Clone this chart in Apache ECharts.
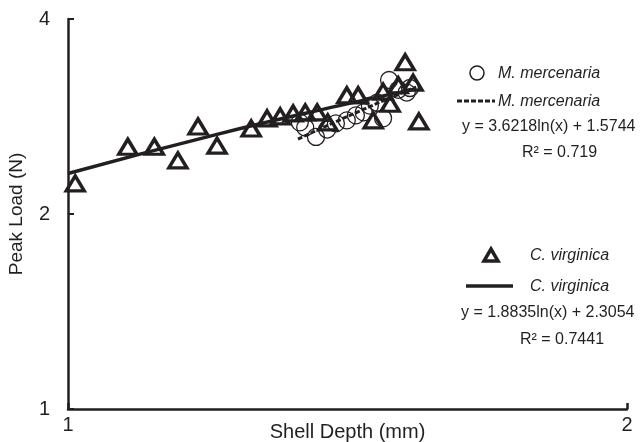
<!DOCTYPE html>
<html>
<head>
<meta charset="utf-8">
<script src="https://cdn.jsdelivr.net/npm/echarts@6/dist/echarts.min.js"></script>
<style>
  html, body { margin: 0; padding: 0; background: #fff; }
  #chart { width: 640px; height: 442px; }
</style>
</head>
<body>
<div id="chart"></div>
<script>
// Shell depth (mm) / peak load (N)
const virginicaDepth = [1.009, 1.077, 1.113, 1.146, 1.175, 1.203, 1.255, 1.280, 1.301, 1.322, 1.342,
  1.362, 1.380, 1.413, 1.433, 1.460, 1.478, 1.491, 1.506, 1.519, 1.534, 1.545];
const virginicaLoad = [2.23, 2.54, 2.54, 2.42, 2.73, 2.55, 2.71, 2.81, 2.83, 2.86, 2.87,
  2.87, 2.77, 3.05, 3.05, 2.79, 3.09, 2.96, 3.16, 3.43, 3.19, 2.78];

const mercenariaDepth = [1.333, 1.342, 1.360, 1.379, 1.394, 1.413, 1.429, 1.443, 1.454, 1.467,
  1.478, 1.489, 1.506, 1.522, 1.528];
const mercenariaLoad = [2.77, 2.72, 2.63, 2.70, 2.76, 2.79, 2.84, 2.87, 2.94, 2.97,
  2.81, 3.22, 3.11, 3.08, 3.13];

// trend lines, points
const virginicaFitDepth = [1.0, 1.2, 1.4, 1.54];
const virginicaFitLoad = [2.31, 2.65, 2.94, 3.12];
const mercenariaFitDepth = [1.33, 1.45, 1.54];
const mercenariaFitLoad = [2.61, 2.92, 3.14];

const xTicks = [1, 2];
const yTicks = [1, 2, 4];

const ink = '#231f20';
const font = '"Liberation Sans", Arial, Helvetica, sans-serif';

const pairs = (xs, ys) => xs.map((x, i) => [x, ys[i]]);

const chart = echarts.init(document.getElementById('chart'));

const legendText = (text, x, y, italic) => ({
  type: 'text',
  left: x,
  top: y,
  style: {
    text,
    fill: ink,
    font: (italic ? 'italic ' : '') + '16px ' + font
  }
});

const option = {
  animation: false,
  backgroundColor: '#fff',
  grid: { left: 68, right: 13, top: 19, bottom: 33, containLabel: false, outerBoundsMode: 'none' },
  xAxis: {
    type: 'log',
    logBase: 2,
    min: xTicks[0],
    max: xTicks[xTicks.length - 1],
    name: 'Shell Depth (mm)',
    nameLocation: 'middle',
    nameGap: 13,
    nameMoveOverlap: false,
    nameTextStyle: { color: ink, fontSize: 20, fontFamily: font },
    axisLine: { lineStyle: { color: ink, width: 2.5 } },
    axisTick: { inside: true, length: 6, lineStyle: { color: ink, width: 2.5 } },
    axisLabel: { color: ink, fontSize: 20, fontFamily: font, margin: 6, showMinLabel: true, showMaxLabel: true },
    splitLine: { show: false },
    minorTick: { show: false }
  },
  yAxis: {
    type: 'log',
    logBase: 2,
    min: yTicks[0],
    max: yTicks[yTicks.length - 1],
    name: 'Peak Load (N)',
    nameLocation: 'middle',
    nameGap: 42,
    nameRotate: 90,
    nameMoveOverlap: false,
    nameTextStyle: { color: ink, fontSize: 19, fontFamily: font },
    axisLine: { lineStyle: { color: ink, width: 2.5 } },
    axisTick: { inside: true, length: 6, lineStyle: { color: ink, width: 2 } },
    axisLabel: { color: ink, fontSize: 20, fontFamily: font, margin: 18 },
    splitLine: { show: false }
  },
  series: [
    {
      name: 'C. virginica',
      type: 'scatter',
      data: pairs(virginicaDepth, virginicaLoad),
      symbol: 'triangle',
      symbolSize: [18, 15],
      itemStyle: { color: 'rgba(255,255,255,0)', borderColor: ink, borderWidth: 3.4, opacity: 1 },
      z: 3
    },
    {
      name: 'M. mercenaria',
      type: 'scatter',
      data: pairs(mercenariaDepth, mercenariaLoad),
      symbol: 'circle',
      symbolSize: 17,
      itemStyle: { color: 'rgba(255,255,255,0)', borderColor: ink, borderWidth: 1.3, opacity: 1 },
      z: 4
    },
    {
      name: 'C. virginica fit',
      type: 'line',
      data: pairs(virginicaFitDepth, virginicaFitLoad),
      smooth: true,
      showSymbol: false,
      lineStyle: { color: ink, width: 3.5 },
      z: 5
    },
    {
      name: 'M. mercenaria fit',
      type: 'line',
      data: pairs(mercenariaFitDepth, mercenariaFitLoad),
      smooth: true,
      showSymbol: false,
      lineStyle: { color: ink, width: 3, type: [5, 2] },
      z: 5
    }
  ],
  graphic: [
    // M. mercenaria legend
    { type: 'circle', shape: { cx: 477, cy: 73, r: 7 }, style: { fill: 'none', stroke: ink, lineWidth: 1.5 } },
    legendText('M. mercenaria', 498, 66, true),
    { type: 'line', shape: { x1: 457, y1: 101, x2: 495, y2: 101 }, style: { stroke: ink, lineWidth: 3, lineDash: [5, 2] } },
    legendText('M. mercenaria', 498, 94, true),
    legendText('y = 3.6218ln(x) + 1.5744', 462, 119, false),
    legendText('R² = 0.719', 522, 145, false),
    // C. virginica legend
    { type: 'polygon', shape: { points: [[484, 261], [498, 261], [491, 249]] }, style: { fill: 'none', stroke: ink, lineWidth: 3.5 } },
    legendText('C. virginica', 530, 248, true),
    { type: 'line', shape: { x1: 466, y1: 286, x2: 513, y2: 286 }, style: { stroke: ink, lineWidth: 3.5 } },
    legendText('C. virginica', 530, 279, true),
    legendText('y = 1.8835ln(x) + 2.3054', 461, 305, false),
    legendText('R² = 0.7441', 520, 332, false)
  ]
};

chart.setOption(option);
</script>
</body>
</html>
